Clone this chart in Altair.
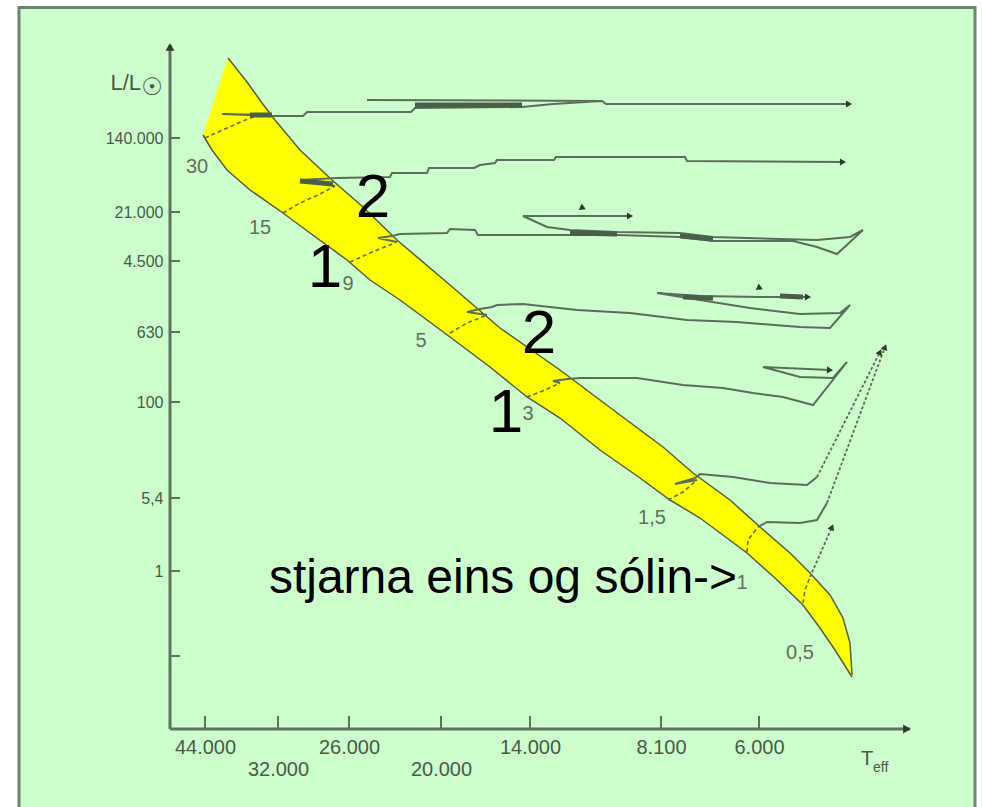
import json
import math
import altair as alt
import pandas as pd

# ---------------- data (diagram units: u to the right of the L axis, v above the T axis)
X_TICKS = [35, 108, 179, 271, 360, 491, 589]
X_LABELS = ["44.000", "32.000", "26.000", "20.000", "14.000", "8.100", "6.000"]
Y_TICKS = [591, 517, 468, 397, 327, 231, 158, 73]
Y_LABELS = ["140.000", "21.000", "4.500", "630", "100", "5,4", "1", ""]

BAND_UPPER = [(58, 671), (77, 647), (92, 626), (105, 609), (130, 579), (162, 549), (193, 522),
              (227, 489), (280, 444), (330, 401), (390, 359), (450, 314), (493, 282), (523, 256),
              (560, 229), (590, 202), (620, 176), (640, 156), (660, 134), (673, 111), (680, 86),
              (682, 54)]
BAND_LOWER = [(33, 594), (42, 579), (57, 559), (80, 539), (113, 516), (140, 496), (177, 469),
              (200, 449), (230, 429), (280, 392), (320, 362), (357, 332), (390, 311), (430, 279),
              (470, 251), (500, 229), (530, 211), (577, 176), (605, 151), (633, 124), (650, 101),
              (665, 79), (682, 52)]

MASSES = ["30", "15", "9", "5", "3", "1,5", "1", "0,5"]
MASS_LABEL_AT = [(27, 562), (90, 501), (178, 445), (251, 388), (358, 315), (482, 211),
                 (572, 146), (630, 76)]

# main-sequence parts of the tracks (across the band)
MS_30 = [(35, 591), (57, 601), (80, 611), (93, 614)]
MS_15 = [(113, 516), (130, 526), (148, 534), (165, 543)]
MS_9 = [(180, 467), (200, 476), (227, 487)]
MS_5 = [(280, 396), (297, 406), (317, 414)]
MS_3 = [(357, 332), (375, 339), (390, 346)]
MS_1_5 = [(498, 229), (513, 237), (527, 249)]
MS_1 = [(577, 177), (578, 189), (588, 202)]
MS_0_5 = [(633, 126), (635, 139), (640, 152)]

# tracks after the main sequence
POST_30 = [(93, 614), (52, 615), (102, 613), (133, 613), (137, 617), (241, 617), (245, 621),
           (352, 622), (383, 625), (432, 628), (197, 629), (432, 628), (436, 625), (679, 625)]
POST_15 = [(165, 543), (130, 549), (167, 551), (220, 552), (222, 556), (257, 556), (259, 561),
           (304, 561), (310, 564), (325, 566), (327, 569), (384, 569), (386, 572), (515, 572),
           (517, 568), (673, 567)]
POST_9 = [(227, 487), (208, 491), (222, 493), (230, 495), (277, 496), (280, 500), (305, 499),
          (308, 494), (447, 494), (510, 492), (543, 488), (623, 488), (647, 482), (667, 475),
          (693, 499), (680, 492), (647, 489), (543, 492), (510, 496), (447, 497), (400, 499),
          (377, 502), (353, 513), (460, 513)]
POST_5 = [(317, 414), (297, 417), (310, 420), (322, 422), (327, 424), (353, 425), (407, 419),
          (460, 416), (517, 409), (567, 407), (630, 402), (660, 401), (680, 424), (670, 416),
          (630, 415), (580, 421), (530, 429), (487, 436), (530, 433), (590, 432), (638, 432)]
POST_3 = [(390, 346), (383, 348), (398, 350), (410, 351), (467, 351), (513, 344), (553, 341),
          (583, 336), (613, 332), (643, 324), (677, 367), (663, 351), (630, 352), (593, 362),
          (660, 359)]
POST_1_5 = [(527, 249), (505, 245), (525, 251), (530, 255), (563, 252), (600, 246), (637, 244),
            (647, 252)]
POST_1 = [(588, 202), (597, 207), (630, 206), (647, 209), (657, 226)]

# red-giant ascents
RISE_1_5 = [(647, 252), (710, 377)]
RISE_1 = [(657, 226), (715, 382)]
RISE_0_5 = [(640, 152), (662, 202)]

# darker, heavier pieces of the tracks
HEAVY = [[(245, 624), (352, 624)], [(80, 614), (102, 614)], [(130, 548), (163, 545)],
         [(400, 496), (447, 495)], [(510, 493), (543, 490)], [(513, 432), (543, 431)],
         [(610, 433), (633, 432)]]
LOOP_MARKS = [(413, 521), (590, 441)]

BIG_NUMBERS = ["2", "1", "2", "1"]
BIG_NUMBERS_AT = [(203, 512), (155, 442), (369, 376), (336, 297)]
NOTE = "stjarna eins og sólin->"
NOTE_AT = (333, 136)

FRAME = (-151, 805, 721.5, -101)
U_RANGE = (-170, 812)
V_RANGE = (-78, 729)
X_AXIS_END = 740
Y_AXIS_END = 684

# ---------------- helpers
TRACK_COLOR = "#5a6f5a"
LABEL_FONT = "Liberation Sans"


def rows(name, pts):
    return [{"seg": name, "i": k, "u": p[0], "v": p[1]} for k, p in enumerate(pts)]


def frame_of(groups):
    out = []
    for name, pts in groups:
        out += rows(name, pts)
    return pd.DataFrame(out)


XS = alt.Scale(domain=list(U_RANGE), nice=False, zero=False)
YS = alt.Scale(domain=list(V_RANGE), nice=False, zero=False)

lower_row = [X_TICKS[1], X_TICKS[3]]
x_axis = alt.Axis(
    values=X_TICKS,
    labelExpr=f"{json.dumps(X_LABELS)}[indexof({json.dumps(X_TICKS)}, datum.value)]",
    title="", domain=False, ticks=False, tickSize=0, grid=False, orient="bottom",
    offset=V_RANGE[0],
    labelPadding={"condition": {"test": f"indexof({json.dumps(lower_row)}, datum.value) >= 0",
                                "value": 30}, "value": 8},
    labelBaseline="top", labelAlign="center", labelFont=LABEL_FONT, labelFontSize=20,
    labelColor="#4a5a4a", labelOverlap=False, labelFlush=False, zindex=2,
)
y_axis = alt.Axis(
    values=Y_TICKS,
    labelExpr=f"{json.dumps(Y_LABELS)}[indexof({json.dumps(Y_TICKS)}, datum.value)]",
    title="", domain=False, ticks=False, tickSize=0, grid=False, orient="left",
    offset=U_RANGE[0], labelPadding=7, labelAlign="right", labelBaseline="middle",
    labelFont=LABEL_FONT, labelFontSize=16, labelColor="#4a5a4a", labelOverlap=False,
    labelFlush=False, zindex=2,
)


def X(f="u"):
    return alt.X(f, type="quantitative", scale=XS, axis=x_axis)


def Y(f="v"):
    return alt.Y(f, type="quantitative", scale=YS, axis=y_axis)


layers = []

# frame / background
frame_df = pd.DataFrame([{"u": FRAME[0], "u2": FRAME[1], "v": FRAME[2], "v2": FRAME[3]}])
layers.append(alt.Chart(frame_df).mark_rect(fill="#CCFFCC", stroke="#6f846f", strokeWidth=3)
              .encode(x=X(), x2="u2", y=Y(), y2="v2"))

# main-sequence band
band_pts = BAND_UPPER + BAND_LOWER[::-1]
band_df = frame_of([("band", band_pts)])
layers.append(alt.Chart(band_df).mark_line(fill="#FFFF00", stroke="#FFFF00", strokeWidth=0.5)
              .encode(x=X(), y=Y(), order="i:Q"))
edge_df = frame_of([("upper", BAND_UPPER), ("lower", BAND_LOWER)])
layers.append(alt.Chart(edge_df).mark_line(color="#55603f", strokeWidth=1.5)
              .encode(x=X(), y=Y(), detail="seg:N", order="i:Q"))

# tracks on the main sequence (dashed)
ms_df = frame_of([(m, p) for m, p in zip(MASSES, [MS_30, MS_15, MS_9, MS_5, MS_3, MS_1_5,
                                                   MS_1, MS_0_5])])
layers.append(alt.Chart(ms_df).mark_line(color="#5f6a40", strokeWidth=1.6, strokeDash=[4, 3])
              .encode(x=X(), y=Y(), detail="seg:N", order="i:Q"))

# tracks after the main sequence
post = [POST_30, POST_15, POST_9, POST_5, POST_3, POST_1_5, POST_1]
post_df = frame_of([(m, p) for m, p in zip(MASSES, post)])
layers.append(alt.Chart(post_df).mark_line(color=TRACK_COLOR, strokeWidth=2)
              .encode(x=X(), y=Y(), detail="seg:N", order="i:Q"))

heavy_df = frame_of([(f"h{k}", p) for k, p in enumerate(HEAVY)])
layers.append(alt.Chart(heavy_df).mark_line(color="#4a5e4a", strokeWidth=5)
              .encode(x=X(), y=Y(), detail="seg:N", order="i:Q"))

rise_df = frame_of([("1,5", RISE_1_5), ("1", RISE_1), ("0,5", RISE_0_5)])
layers.append(alt.Chart(rise_df).mark_line(color=TRACK_COLOR, strokeWidth=1.8, strokeDash=[3, 2])
              .encode(x=X(), y=Y(), detail="seg:N", order="i:Q"))

# arrow heads at track ends
arrows = []
for pts in [POST_30, POST_15, POST_9, POST_5, POST_3, RISE_1_5, RISE_1, RISE_0_5]:
    (u1, v1), (u2, v2) = pts[-2], pts[-1]
    ang = math.degrees(math.atan2(-(v2 - v1), u2 - u1)) % 360
    arrows.append({"u": u2, "v": v2, "ang": ang})
for (u, v) in LOOP_MARKS:
    arrows.append({"u": u, "v": v, "ang": 25})
arrow_df = pd.DataFrame(arrows)
layers.append(alt.Chart(arrow_df).mark_point(shape="triangle-right", filled=True, size=50,
                                             color="#2f3d2f", opacity=1)
              .encode(x=X(), y=Y(), angle=alt.Angle("ang:Q", scale=None)))

# axes lines, arrow heads and inward ticks
axis_df = pd.DataFrame([{"u": 0, "v": 0, "u2": X_AXIS_END, "v2": 0},
                        {"u": 0, "v": 0, "u2": 0, "v2": Y_AXIS_END}])
layers.append(alt.Chart(axis_df).mark_rule(color="#5e735e", strokeWidth=3)
              .encode(x=X(), y=Y(), x2="u2", y2="v2"))
head_df = pd.DataFrame([{"u": X_AXIS_END - 3, "v": 0, "shape": "triangle-right"},
                        {"u": 0, "v": Y_AXIS_END - 2, "shape": "triangle-up"}])
layers.append(alt.Chart(head_df).mark_point(filled=True, size=80, color="#2f3d2f", opacity=1)
              .encode(x=X(), y=Y(), shape=alt.Shape("shape:N", scale=None)))

tick_rows = [{"u": t, "v": 0, "u2": t, "v2": 13} for t in X_TICKS]
tick_rows += [{"u": 0, "v": t, "u2": 10, "v2": t} for t in Y_TICKS]
layers.append(alt.Chart(pd.DataFrame(tick_rows)).mark_rule(color="#5e735e", strokeWidth=2)
              .encode(x=X(), y=Y(), x2="u2", y2="v2"))

# mass labels
mass_df = pd.DataFrame([{"u": p[0], "v": p[1], "t": m} for m, p in zip(MASSES, MASS_LABEL_AT)])
layers.append(alt.Chart(mass_df).mark_text(font=LABEL_FONT, fontSize=20, color="#607060",
                                           align="center", baseline="middle")
              .encode(x=X(), y=Y(), text="t:N"))

# big numbers and note
big_df = pd.DataFrame([{"u": p[0], "v": p[1], "t": t} for t, p in zip(BIG_NUMBERS, BIG_NUMBERS_AT)])
layers.append(alt.Chart(big_df).mark_text(font=LABEL_FONT, fontSize=62, color="#000000",
                                          align="center", baseline="alphabetic")
              .encode(x=X(), y=Y(), text="t:N"))
note_df = pd.DataFrame([{"u": NOTE_AT[0], "v": NOTE_AT[1], "t": NOTE}])
layers.append(alt.Chart(note_df).mark_text(font=LABEL_FONT, fontSize=48, color="#000000",
                                           align="center", baseline="alphabetic")
              .encode(x=X(), y=Y(), text="t:N"))

# axis titles
title_rows = [
    {"u": -29, "v": 639, "t": "L/L", "fs": 22, "al": "right"},
    {"u": 697, "v": -36, "t": "T", "fs": 20, "al": "center"},
    {"u": 703, "v": -43, "t": "eff", "fs": 14, "al": "left"},
]
for r in title_rows:
    layers.append(alt.Chart(pd.DataFrame([r])).mark_text(
        font=LABEL_FONT, fontSize=r["fs"], color="#4a5a4a", align=r["al"], baseline="alphabetic")
        .encode(x=X(), y=Y(), text="t:N"))
sun_df = pd.DataFrame([{"u": -18, "v": 641, "t": "☉"}])
layers.append(alt.Chart(sun_df).mark_text(font="DejaVu Sans", fontSize=24, color="#4a5a4a",
                                          align="center", baseline="middle")
              .encode(x=X(), y=Y(), text="t:N"))

chart = (alt.layer(*layers)
         .properties(width=982, height=807, padding=0, background="white",
                     autosize=alt.AutoSizeParams(type="none"))
         .configure_view(strokeWidth=0))

chart.save("out.html", embed_options={"renderer": "svg", "actions": False})
